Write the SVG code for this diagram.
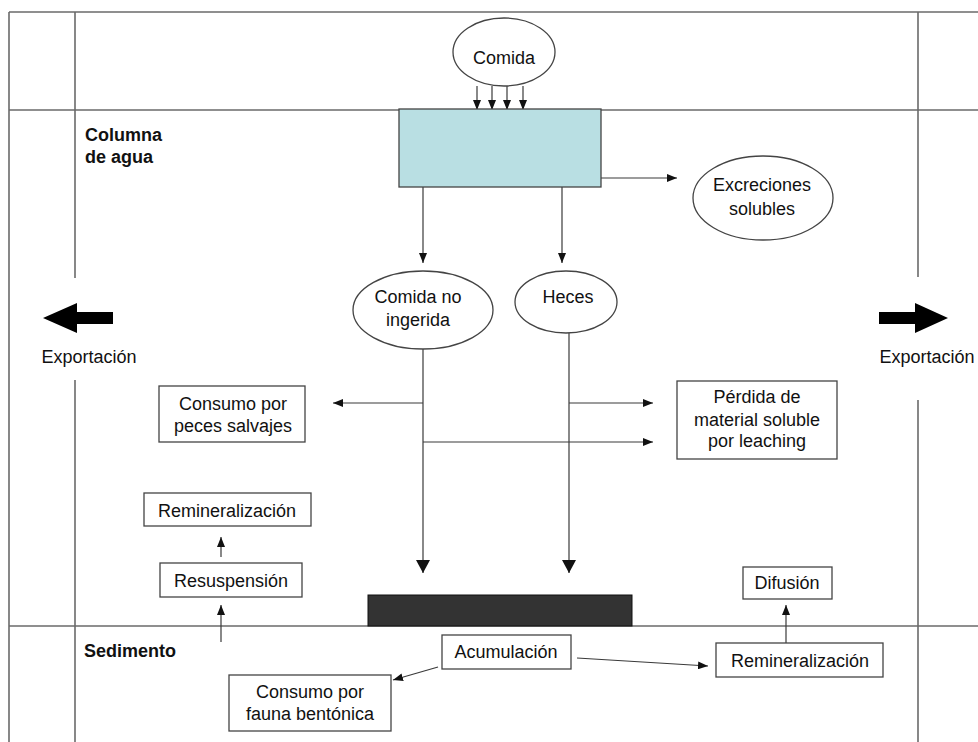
<svg xmlns="http://www.w3.org/2000/svg" width="978" height="742" viewBox="0 0 978 742">
<style>
text{font-family:"Liberation Sans",Arial,sans-serif;font-size:18px;fill:#111;text-anchor:middle}
.b{font-weight:bold;text-anchor:start}
.frame{stroke:#6a6a6a;stroke-width:1.6;fill:none}
.c{stroke:#3a3a3a;stroke-width:1.2;fill:none}
.box{fill:#fff;stroke:#444;stroke-width:1.3}
.ell{fill:#fff;stroke:#444;stroke-width:1.3}
</style>
<defs>
<marker id="ah" viewBox="0 0 10 8" refX="10" refY="4" markerWidth="10" markerHeight="8" markerUnits="userSpaceOnUse" orient="auto"><path d="M0,0 L10,4 L0,8 z" fill="#111"/></marker>
<marker id="ahL" viewBox="0 0 13 14" refX="13" refY="7" markerWidth="13" markerHeight="14" markerUnits="userSpaceOnUse" orient="auto"><path d="M0,0 L13,7 L0,14 z" fill="#111"/></marker>
</defs>
<rect width="978" height="742" fill="#fff"/>
<g id="frame">
<line class="frame" x1="9" y1="12" x2="978" y2="12"/>
<line class="frame" x1="9" y1="12" x2="9" y2="742"/>
<line class="frame" x1="75" y1="12" x2="75" y2="278"/>
<line class="frame" x1="75" y1="380" x2="75" y2="742"/>
<line class="frame" x1="918" y1="12" x2="918" y2="277"/>
<line class="frame" x1="918" y1="400" x2="918" y2="742"/>
<line class="frame" x1="9" y1="110" x2="978" y2="110"/>
<line class="frame" x1="9" y1="626" x2="978" y2="626"/>
</g>
<g id="labels">
<text class="b" x="85" y="141">Columna</text>
<text class="b" x="85" y="163">de agua</text>
<text class="b" x="84" y="657">Sedimento</text>
</g>
<g id="export-left">
<polygon points="43,318 77,303 77,312 113,312 113,324 77,324 77,333" fill="#000"/>
<text x="89" y="363">Exportación</text>
</g>
<g id="export-right">
<polygon points="948,318 915,303 915,312 879,312 879,324 915,324 915,333" fill="#000"/>
<text x="927" y="363">Exportación</text>
</g>
<g id="sediment-bar"><rect x="368" y="595" width="264" height="31" fill="#333" stroke="#111"/></g>
<g id="connectors">
<line class="c" x1="477" y1="86" x2="477" y2="110" marker-end="url(#ah)"/>
<line class="c" x1="492" y1="86" x2="492" y2="110" marker-end="url(#ah)"/>
<line class="c" x1="507" y1="86" x2="507" y2="110" marker-end="url(#ah)"/>
<line class="c" x1="523" y1="86" x2="523" y2="110" marker-end="url(#ah)"/>
<line class="c" x1="601" y1="178" x2="677" y2="178" marker-end="url(#ah)"/>
<line class="c" x1="423" y1="187" x2="423" y2="263" marker-end="url(#ah)"/>
<line class="c" x1="562" y1="187" x2="562" y2="263" marker-end="url(#ah)"/>
<line class="c" x1="423" y1="349" x2="423" y2="573" marker-end="url(#ahL)"/>
<line class="c" x1="569" y1="333" x2="569" y2="573" marker-end="url(#ahL)"/>
<line class="c" x1="423" y1="403" x2="333" y2="403" marker-end="url(#ah)"/>
<line class="c" x1="569" y1="403" x2="653" y2="403" marker-end="url(#ah)"/>
<line class="c" x1="423" y1="442" x2="653" y2="442" marker-end="url(#ah)"/>
<line class="c" x1="221" y1="557" x2="221" y2="537" marker-end="url(#ah)"/>
<line class="c" x1="221" y1="642" x2="221" y2="605" marker-end="url(#ah)"/>
<line class="c" x1="438" y1="667" x2="393" y2="680" marker-end="url(#ah)"/>
<line class="c" x1="577" y1="658" x2="708" y2="666" marker-end="url(#ah)"/>
<line class="c" x1="786" y1="643" x2="786" y2="605" marker-end="url(#ah)"/>
</g>
<g id="comida">
<ellipse class="ell" cx="504" cy="52" rx="51" ry="34"/>
<text x="504" y="64">Comida</text>
</g>
<g id="cultivo"><rect x="399" y="109" width="202" height="78" fill="#b9dfe3" stroke="#444" stroke-width="1.3"/></g>
<g id="excreciones">
<ellipse class="ell" cx="763" cy="198" rx="70" ry="42"/>
<text x="762" y="191">Excreciones</text>
<text x="762" y="215">solubles</text>
</g>
<g id="comida-no-ingerida">
<ellipse class="ell" cx="423" cy="310" rx="70" ry="39"/>
<text x="418" y="303">Comida no</text>
<text x="418" y="326">ingerida</text>
</g>
<g id="heces">
<ellipse class="ell" cx="566" cy="302" rx="51" ry="31"/>
<text x="568" y="303">Heces</text>
</g>
<g id="consumo-peces">
<rect class="box" x="159" y="386" width="146" height="56"/>
<text x="233" y="410">Consumo por</text>
<text x="233" y="432">peces salvajes</text>
</g>
<g id="perdida">
<rect class="box" x="677" y="381" width="160" height="78"/>
<text x="757" y="403">Pérdida de</text>
<text x="757" y="426">material soluble</text>
<text x="757" y="447">por leaching</text>
</g>
<g id="remineralizacion-agua">
<rect class="box" x="144" y="493" width="167" height="33"/>
<text x="227" y="517">Remineralización</text>
</g>
<g id="resuspension">
<rect class="box" x="160" y="563" width="142" height="34"/>
<text x="231" y="587">Resuspensión</text>
</g>
<g id="acumulacion">
<rect class="box" x="442" y="635" width="129" height="34"/>
<text x="506" y="658">Acumulación</text>
</g>
<g id="consumo-fauna">
<rect class="box" x="229" y="675" width="162" height="56"/>
<text x="310" y="698">Consumo por</text>
<text x="310" y="720">fauna bentónica</text>
</g>
<g id="remineralizacion-sed">
<rect class="box" x="716" y="643" width="167" height="34"/>
<text x="800" y="667">Remineralización</text>
</g>
<g id="difusion">
<rect class="box" x="743" y="567" width="89" height="32"/>
<text x="787" y="589">Difusión</text>
</g>
</svg>
